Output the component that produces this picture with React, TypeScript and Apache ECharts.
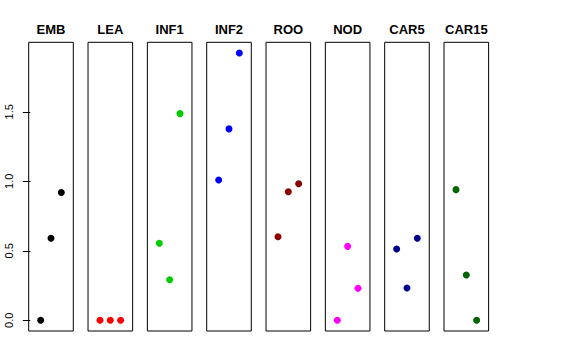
import React, { useEffect, useRef } from "react";
import * as echarts from "echarts";

const panelNames = ["EMB", "LEA", "INF1", "INF2", "ROO", "NOD", "CAR5", "CAR15"];
const xPositions = [1, 2, 3];
const embValues = [0, 0.59, 0.92];
const leaValues = [0, 0, 0];
const inf1Values = [0.555, 0.292, 1.487];
const inf2Values = [1.009, 1.377, 1.923];
const rooValues = [0.601, 0.925, 0.983];
const nodValues = [0, 0.532, 0.23];
const car5Values = [0.513, 0.232, 0.59];
const car15Values = [0.94, 0.326, 0];
const panelValues = [embValues, leaValues, inf1Values, inf2Values, rooValues, nodValues, car5Values, car15Values];
const panelColors = ["#000000", "#FF0000", "#00CD00", "#0000FF", "#8B0000", "#FF00FF", "#00008B", "#006400"];
const yTickValues = [0, 0.5, 1, 1.5];

const FONT = "'Liberation Sans', Arial, Helvetica, sans-serif";

export default function App() {
  const ref = useRef<HTMLDivElement>(null);
  useEffect(() => {
    if (!ref.current) return;
    const chart = echarts.init(ref.current, null, { renderer: "svg" });
    const left0 = 28.7;
    const step = 59.33;
    const width = 44.6;
    const top = 42.3;
    const height = 288.7;
    const grids: any[] = [];
    const xAxes: any[] = [];
    const yAxes: any[] = [];
    const series: any[] = [];
    const graphics: any[] = [];
    panelNames.forEach((name, i) => {
      const left = left0 + i * step;
      grids.push({
        left,
        top,
        width,
        height,
        show: true,
        borderColor: "#000",
        borderWidth: 1,
        backgroundColor: "transparent",
        containLabel: false,
      });
      xAxes.push({
        type: "value",
        gridIndex: i,
        min: -0.16,
        max: 4.16,
        show: false,
      });
      yAxes.push({
        type: "value",
        gridIndex: i,
        min: -0.0769,
        max: 2.0,
        show: i === 0,
        splitLine: { show: false },
        axisLine: { show: false },
        axisTick: {
          show: i === 0,
          length: 7.5,
          customValues: yTickValues,
          lineStyle: { color: "#000", width: 1 },
        },
        axisLabel: {
          show: i === 0,
          customValues: yTickValues,
          rotate: 90,
          margin: 14,
          fontSize: 11,
          fontFamily: FONT,
          color: "#000",
          formatter: (v: number) => v.toFixed(1),
        },
      });
      series.push({
        type: "scatter",
        xAxisIndex: i,
        yAxisIndex: i,
        symbol: "circle",
        symbolSize: 7,
        itemStyle: { color: panelColors[i], opacity: 1 },
        emphasis: { disabled: true },
        data: xPositions.map((x, j) => [x, panelValues[i][j]]),
      });
      graphics.push({
        type: "text",
        x: left + width / 2,
        y: 29.5,
        style: {
          text: name,
          fontSize: 13,
          fontWeight: "bold",
          fontFamily: FONT,
          fill: "#000",
          align: "center",
          verticalAlign: "middle",
        },
      });
    });
    chart.setOption({
      animation: false,
      backgroundColor: "#fff",
      grid: grids,
      xAxis: xAxes,
      yAxis: yAxes,
      series,
      graphic: graphics,
    });
    return () => chart.dispose();
  }, []);
  return (
    <div
      ref={ref}
      style={{ position: "fixed", left: 0, top: 0, width: 576, height: 360 }}
    />
  );
}
